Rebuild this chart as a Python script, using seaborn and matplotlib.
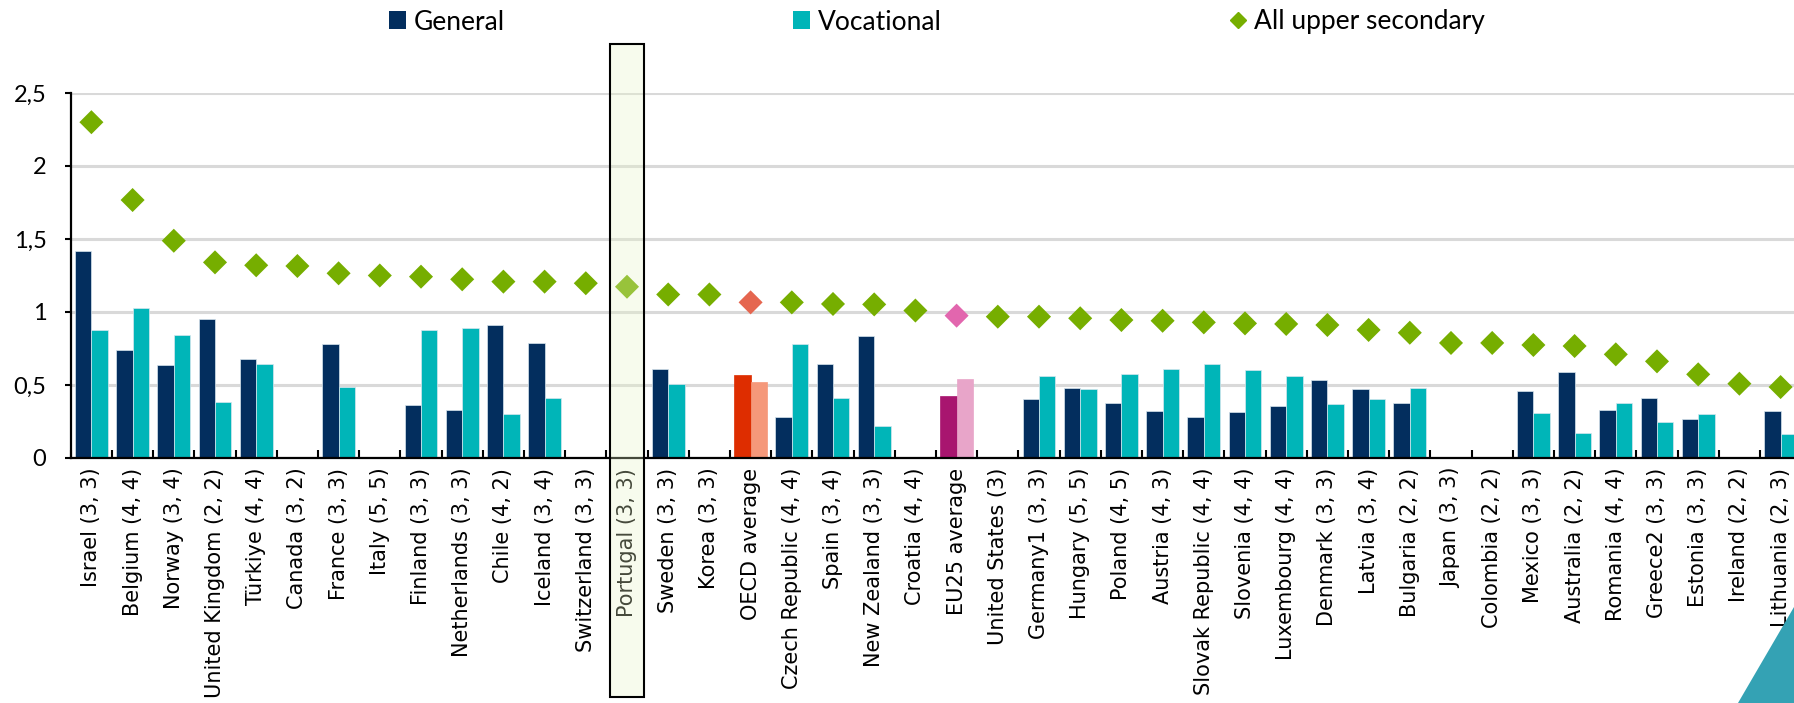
import numpy as np
import pandas as pd
import matplotlib
matplotlib.use("Agg")
import matplotlib.pyplot as plt
import matplotlib.transforms as mtransforms
from matplotlib.patches import Rectangle, Polygon, Patch
from matplotlib.lines import Line2D
import seaborn as sns

nan = np.nan

# Données
countries = ["Israel (3, 3)", "Belgium (4, 4)", "Norway (3, 4)", "United Kingdom (2, 2)",
             "Türkiye (4, 4)", "Canada (3, 2)", "France (3, 3)", "Italy (5, 5)",
             "Finland (3, 3)", "Netherlands (3, 3)", "Chile (4, 2)", "Iceland (3, 4)",
             "Switzerland (3, 3)", "Portugal (3, 3)", "Sweden (3, 3)", "Korea (3, 3)",
             "OECD average", "Czech Republic (4, 4)", "Spain (3, 4)", "New Zealand (3, 3)",
             "Croatia (4, 4)", "EU25 average", "United States (3)", "Germany1 (3, 3)",
             "Hungary (5, 5)", "Poland (4, 5)", "Austria (4, 3)", "Slovak Republic (4, 4)",
             "Slovenia (4, 4)", "Luxembourg (4, 4)", "Denmark (3, 3)", "Latvia (3, 4)",
             "Bulgaria (2, 2)", "Japan (3, 3)", "Colombia (2, 2)", "Mexico (3, 3)",
             "Australia (2, 2)", "Romania (4, 4)", "Greece2 (3, 3)", "Estonia (3, 3)",
             "Ireland (2, 2)", "Lithuania (2, 3)"]

general = [1.42, 0.74, 0.64, 0.95, 0.68, nan, 0.78, nan, 0.365, 0.33, 0.91, 0.79,
           nan, nan, 0.61, nan, 0.57, 0.28, 0.645, 0.835, nan, 0.425, nan, 0.405,
           0.48, 0.375, 0.325, 0.283, 0.313, 0.354, 0.536, 0.47, 0.379, nan, nan,
           0.461, 0.591, 0.329, 0.413, 0.267, nan, 0.32]

vocational = [0.88, 1.025, 0.84, 0.385, 0.645, nan, 0.485, nan, 0.877, 0.89, 0.30, 0.41,
              nan, nan, 0.51, nan, 0.52, 0.78, 0.41, 0.22, nan, 0.54, nan, 0.56,
              0.475, 0.573, 0.612, 0.644, 0.603, 0.564, 0.37, 0.404, 0.479, nan, nan,
              0.308, 0.169, 0.374, 0.247, 0.30, nan, 0.164]

all_upper = [2.30, 1.767, 1.488, 1.34, 1.32, 1.315, 1.265, 1.25, 1.242, 1.224, 1.208, 1.208,
             1.197, 1.173, 1.12, 1.12, 1.066, 1.066, 1.055, 1.052, 1.01, 0.975, 0.968, 0.968,
             0.957, 0.945, 0.94, 0.929, 0.922, 0.918, 0.911, 0.877, 0.858, 0.788, 0.788,
             0.774, 0.767, 0.71, 0.662, 0.573, 0.509, 0.486]

highlight = "Portugal (3, 3)"

# Couleurs
c_gen = "#032E5E"
c_voc = "#00B5B8"
c_dot = "#76AE00"
special = {
    "OECD average": ("#DE2D00", "#F5987A", "#E5664F"),
    "EU25 average": ("#A8156F", "#E8A5C9", "#E266AE"),
}

n = len(countries)
df = pd.DataFrame({
    "country": countries * 2,
    "type": ["General"] * n + ["Vocational"] * n,
    "value": general + vocational,
})

W, H = 1794, 703
fig = plt.figure(figsize=(W / 100, H / 100), dpi=100)
ax = fig.add_axes([70.8 / W, 1 - 458 / H, n * 41.2 / W, (458 - 93) / H])

sns.barplot(data=df, x="country", y="value", hue="type", order=countries,
            hue_order=["General", "Vocational"], palette={"General": c_gen, "Vocational": c_voc},
            errorbar=None, width=0.8, saturation=1, edgecolor="#D8E6EE", linewidth=0.5,
            legend=False, ax=ax, zorder=2)

# recolorer les moyennes OCDE / UE
for p in ax.patches:
    idx = int(round(p.get_x() + p.get_width() / 2))
    left = (p.get_x() + p.get_width() / 2) < idx
    name = countries[idx]
    if name in special:
        p.set_facecolor(special[name][0] if left else special[name][1])
        p.set_edgecolor(special[name][0] if left else special[name][1])

dot_colors = [special[c][2] if c in special else c_dot for c in countries]
ax.scatter(np.arange(n), all_upper, marker="D", s=150, c=dot_colors, linewidths=0, zorder=4)

ax.set_xlim(-0.5, n - 0.5)
ax.set_ylim(0, 2.5)
ax.set_yticks(np.arange(0, 2.51, 0.5))
ax.set_yticklabels([f"{v:g}".replace(".", ",") for v in np.arange(0, 2.51, 0.5)],
                   family="Lato", fontsize=17)
ax.set_xlabel("")
ax.set_ylabel("")
ax.set_xticks(np.arange(n))
ax.set_xticklabels(countries, rotation=90, fontsize=15, family="DejaVu Sans", va="top")
ax.set_xticks(np.arange(-0.5, n, 1), minor=True)
ax.tick_params(axis="x", which="major", length=0, pad=7)
ax.tick_params(axis="x", which="minor", direction="in", length=5.5, width=1.5, color="black")
ax.tick_params(axis="y", which="major", direction="out", length=4.5, width=1.5, pad=13)

ax.yaxis.grid(True, color="#D9D9D9", linewidth=2.2)
ax.set_axisbelow(True)
for s in ["top", "right"]:
    ax.spines[s].set_visible(False)
for s in ["left", "bottom"]:
    ax.spines[s].set_linewidth(1.6)
    ax.spines[s].set_color("black")

# Portugal en surbrillance
trans = mtransforms.blended_transform_factory(ax.transData, fig.transFigure)
i_pt = countries.index(highlight)
rect = Rectangle((i_pt - 0.42, 1 - 696.5 / H), 0.84, (696.5 - 44) / H, transform=trans,
                 facecolor=(231 / 255, 245 / 255, 198 / 255, 0.3), edgecolor="black",
                 linewidth=1.5, zorder=5)
fig.add_artist(rect)

# triangle décoratif en bas à droite
tri = Polygon([[1738 / W, 0], [1, 0], [1, 1 - 607 / H]], closed=True, transform=fig.transFigure,
              facecolor="#34A2B4", edgecolor="none", zorder=6)
fig.add_artist(tri)

handles = [Patch(facecolor=c_gen, edgecolor="none", label="General"),
           Patch(facecolor=c_voc, edgecolor="none", label="Vocational"),
           Line2D([], [], marker="D", color=c_dot, linestyle="none", markersize=8.5,
                  label="All upper secondary")]
fig.legend(handles=handles, loc="center left", bbox_to_anchor=(389 / W, 1 - 22 / H),
           ncol=3, frameon=False, prop={"family": "Lato", "size": 19}, handlelength=0.65,
           handleheight=0.65, handletextpad=0.3, columnspacing=10.9, borderpad=0,
           borderaxespad=0)

fig.savefig("out.png", dpi=100)
